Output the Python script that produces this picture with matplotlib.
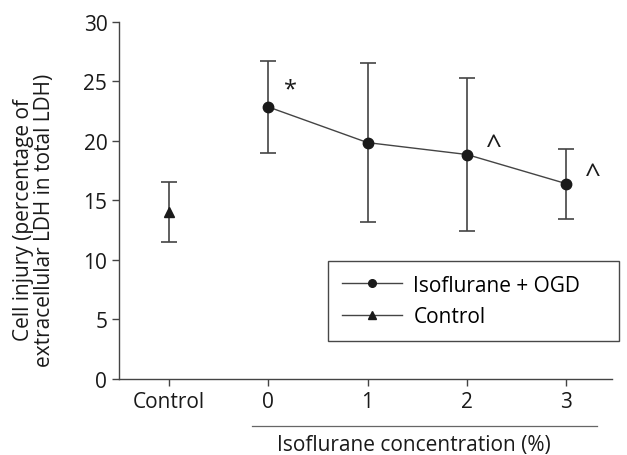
import matplotlib
matplotlib.use("Agg")
import matplotlib.pyplot as plt

plt.rcParams['font.family'] = ['Open Sans', 'DejaVu Sans']

categories = ['Control', '0', '1', '2', '3']
iso_x = [0, 1, 2, 3]
iso_mean = [22.85, 19.85, 18.85, 16.4]
iso_upper = [26.7, 26.55, 25.3, 19.35]
iso_lower = [19.0, 13.2, 12.4, 13.4]
ctrl_mean = [14.0]
ctrl_upper = [16.5]
ctrl_lower = [11.5]
marks = ['*', '', '^', '^']

fig = plt.figure(figsize=(6.27, 4.56), dpi=100)
ax = fig.add_axes([0.19, 0.167, 0.786, 0.783])

ink = '#1a1a1a'
grey = '#444444'
fs = 15

iso_err = [[m - l for m, l in zip(iso_mean, iso_lower)],
           [u - m for m, u in zip(iso_mean, iso_upper)]]
ctrl_err = [[m - l for m, l in zip(ctrl_mean, ctrl_lower)],
            [u - m for m, u in zip(ctrl_mean, ctrl_upper)]]

ax.errorbar(iso_x, iso_mean, yerr=iso_err, fmt='none', ecolor=grey,
            elinewidth=1.2, capsize=5.5, capthick=1.2)
ax.errorbar([-1], ctrl_mean, yerr=ctrl_err, fmt='none', ecolor=grey,
            elinewidth=1.2, capsize=5.5, capthick=1.2)
ax.plot(iso_x, iso_mean, color=grey, lw=1, marker='o', ms=7.5,
        mfc=ink, mec=ink, label='Isoflurane + OGD')
ax.plot([-1], ctrl_mean, color=grey, lw=1, marker='^', ms=7,
        mfc=ink, mec=ink, label='Control')

# significance marks: (dx, dy, size)
offsets = {'*': (0.22, 1.45, fs + 2), '^': (0.27, 0.75, fs + 5)}
for x, m in zip(iso_x, iso_mean):
    s = marks[x]
    if not s:
        continue
    dx, dy, size = offsets[s]
    ax.text(x + dx, m + dy, s, fontsize=size, color=ink,
            ha='center', va='center')

ax.set_xlim(-1.5, 3.46)
ax.set_ylim(0, 30)
ax.set_yticks(range(0, 31, 5))
ax.set_xticks(range(-1, 4))
ax.set_xticklabels(categories)
ax.tick_params(labelsize=fs, colors=grey, labelcolor=ink, length=5, width=1)

for side in ['top', 'right']:
    ax.spines[side].set_visible(False)
for side in ['left', 'bottom']:
    ax.spines[side].set_color(grey)
    ax.spines[side].set_linewidth(1)

ax.set_ylabel('Cell injury (percentage of\nextracellular LDH in total LDH)',
              fontsize=fs, color=ink, linespacing=1.0)
ax.yaxis.set_label_coords(-0.13, 0.448)

tr = ax.get_xaxis_transform()
ax.plot([-0.16, 3.31], [-0.132, -0.132], transform=tr, color='#666666',
        lw=0.9, clip_on=False)
ax.text(1.47, -0.198, 'Isoflurane concentration (%)', transform=tr,
        fontsize=fs, color=ink, ha='center', va='baseline')

leg = ax.legend(loc='upper left',
                bbox_to_anchor=(328 / 627, 1 - 262 / 456, 291 / 627, 0),
                bbox_transform=fig.transFigure, mode='expand', fontsize=fs,
                frameon=True, fancybox=False, edgecolor=ink,
                handlelength=2.9, borderpad=0.65, labelspacing=0.5,
                handletextpad=0.55, borderaxespad=0)
leg.get_frame().set_linewidth(1)
for h in leg.legend_handles:
    h.set_markersize(5.5)

fig.savefig('out.png', dpi=100, facecolor='white')
